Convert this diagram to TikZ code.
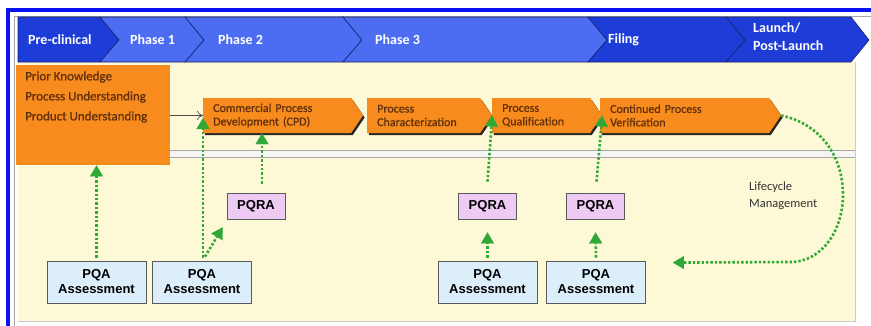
\documentclass[tikz,border=0pt]{standalone}
\usepackage{fontspec}
\setmainfont{Carlito}
\newfontfamily\stagefont[FakeBold=0.8]{Carlito}
\newfontfamily\arialfont{Liberation Sans}
\usetikzlibrary{arrows.meta,calc,shapes.symbols,shadows}

\definecolor{frameblue}{HTML}{0A12F2}
\definecolor{phasedark}{HTML}{1E3CD8}
\definecolor{phaselight}{HTML}{4C6CF2}
\definecolor{phaseedge}{HTML}{18226E}
\definecolor{paper}{HTML}{FDF9D6}
\definecolor{procorange}{HTML}{F78B1E}
\definecolor{proctext}{HTML}{62300A}
\definecolor{dotgreen}{HTML}{2FA836}
\definecolor{pqafill}{HTML}{DCEEFA}
\definecolor{pqrafill}{HTML}{EDCBF2}
\definecolor{boxedge}{HTML}{5A5A5A}

\begin{document}
\begin{tikzpicture}[x=1pt,y=-1pt,
  chev/.style={draw=phaseedge,line width=0.6pt,line join=miter},
  phasetext/.style={text=white,font=\fontsize{14}{18}\selectfont\bfseries,
    anchor=west,inner sep=0pt,align=left},
  procbox/.style={signal,signal to=east,signal from=nowhere,signal pointer angle=112,
    fill=procorange,minimum height=35pt,inner xsep=10pt,inner ysep=0pt,
    text=proctext,font=\stagefont\fontsize{12}{13.5}\selectfont,align=left,anchor=west,
    drop shadow={shadow xshift=1.6pt,shadow yshift=-2pt,fill=black!85,opacity=1}},
  pqa/.style={draw=boxedge,line width=0.8pt,fill=pqafill,
    font=\arialfont\bfseries\fontsize{13}{15}\selectfont,align=center,
    minimum width=99pt,minimum height=42pt,inner sep=0pt},
  pqra/.style={draw=boxedge,line width=0.8pt,fill=pqrafill,
    font=\arialfont\bfseries\fontsize{13}{15}\selectfont,
    minimum width=58pt,minimum height=26pt,inner sep=0pt},
  greenlink/.style={draw=dotgreen,line width=2.6pt,dash pattern=on 2.4pt off 2pt,
    -{Triangle[width=13pt,length=11pt,line width=0.1pt]}}
]
\useasboundingbox (0,0) rectangle (871,325);
\clip (0,0) rectangle (871,325);

% outer frames
\draw[frameblue,line width=4pt] (8,335) -- (8,10) -- (880,10);
\draw[black!35,line width=0.6pt] (14,335) -- (14,16) -- (880,16);

% working area and separator strip
\fill[paper] (18,62) rectangle (855,321);
\draw[black!20,line width=0.6pt] (855,62) -- (855,321) -- (18,321);
\fill[black!4] (18,150) rectangle (855,157);
\draw[black!35,line width=0.6pt] (18,150) -- (855,150) (18,157) -- (855,157);

% phase chevrons
\draw[chev,fill=phasedark]  (18,17) -- (100,17) -- (119,40) -- (100,62) -- (18,62) -- cycle;
\draw[chev,fill=phaselight] (100,17) -- (185,17) -- (204,40) -- (185,62) -- (100,62) -- (119,40) -- cycle;
\draw[chev,fill=phaselight] (185,17) -- (343,17) -- (362,40) -- (343,62) -- (185,62) -- (204,40) -- cycle;
\draw[chev,fill=phaselight] (343,17) -- (588,17) -- (607,40) -- (588,62) -- (343,62) -- (362,40) -- cycle;
\draw[chev,fill=phasedark]  (588,17) -- (726,17) -- (745,40) -- (726,62) -- (588,62) -- (607,40) -- cycle;
\draw[chev,fill=phasedark]  (726,17) -- (851,17) -- (869,40) -- (851,62) -- (726,62) -- (745,40) -- cycle;

\node[phasetext] (pre) at (28,40) {Pre-clinical};
\node[phasetext] (ph1) at (130,40) {Phase 1};
\node[phasetext] (ph2) at (218,40) {Phase 2};
\node[phasetext] (ph3) at (375,40) {Phase 3};
\node[phasetext] (fil) at (608,40) {Filing};
\node[phasetext] (lau) at (753,37) {Launch/\\Post-Launch};

% knowledge block
\node[fill=procorange,minimum width=154pt,minimum height=100pt,inner sep=0pt,
      anchor=north west] (know) at (16,65) {};
\node[text=proctext,font=\stagefont\fontsize{13}{20}\selectfont,align=left,anchor=west,
      inner sep=0pt] (knowtxt) at (25,97)
  {Prior Knowledge\\Process Understanding\\Product Understanding};

% process stages
\node[procbox,text width=128pt] (cpd)  at (203,115.5) {Commercial Process\\Development (CPD)};
\node[procbox,text width=93pt]  (char) at (367,115.5) {Process\\Characterization};
\node[procbox,text width=78pt]  (qual) at (492,115.5) {Process\\Qualification};
\node[procbox,text width=149pt] (cpv)  at (600,115.5) {Continued Process\\Verification};

\draw[-{To[length=6pt,width=9pt]},black!70,line width=0.7pt]
  (know.east |- cpd.west) -- (cpd.west);

% assessments
\node[pqa]  (pqa1) at (96.5,282)  {PQA\\Assessment};
\node[pqa]  (pqa2) at (202,282)   {PQA\\Assessment};
\node[pqa]  (pqa3) at (487.5,282) {PQA\\Assessment};
\node[pqa]  (pqa4) at (596,282)   {PQA\\Assessment};
\node[pqra] (pqra1) at (256,206)  {PQRA};
\node[pqra] (pqra2) at (487.5,206) {PQRA};
\node[pqra] (pqra3) at (595.5,206) {PQRA};

\node[text=black!80,font=\fontsize{12.5}{17}\selectfont,align=left,anchor=west,
      inner sep=0pt] (life) at (749,196) {Lifecycle\\Management};

% green links
\coordinate (q1top) at ($(pqra1.north)+(6,-9)$);
\draw[greenlink] ($(pqa1.north)+(0,-3)$) -- (pqa1.north |- know.south);
\draw[greenlink] ($(pqa2.north)+(1,-3)$) -- ($(cpd.west)+(0,2.5)$);
\draw[greenlink] ($(pqa2.north)+(3,-4)$) -- ($(pqra1.south west)+(-4,8)$);
\draw[greenlink] (q1top) -- (q1top |- cpd.south);
\draw[greenlink] ($(pqa3.north)+(0,-3)$) -- ($(pqra2.south)+(0,13)$);
\draw[greenlink] ($(pqra2.north)+(0,-11)$) -- (char.east);
\draw[greenlink] ($(pqa4.north)+(0,-3)$) -- ($(pqra3.south)+(0,13)$);
\draw[greenlink] ($(pqra3.north)+(1,-11)$) -- (qual.east);

\coordinate (lcend) at ($(pqa4.north east)+(27,2)$);
\draw[greenlink] (cpv.east) to[out=-12,in=90] (843,195)
  to[out=-90,in=0] (790,262) -- (lcend);
\end{tikzpicture}
\end{document}
